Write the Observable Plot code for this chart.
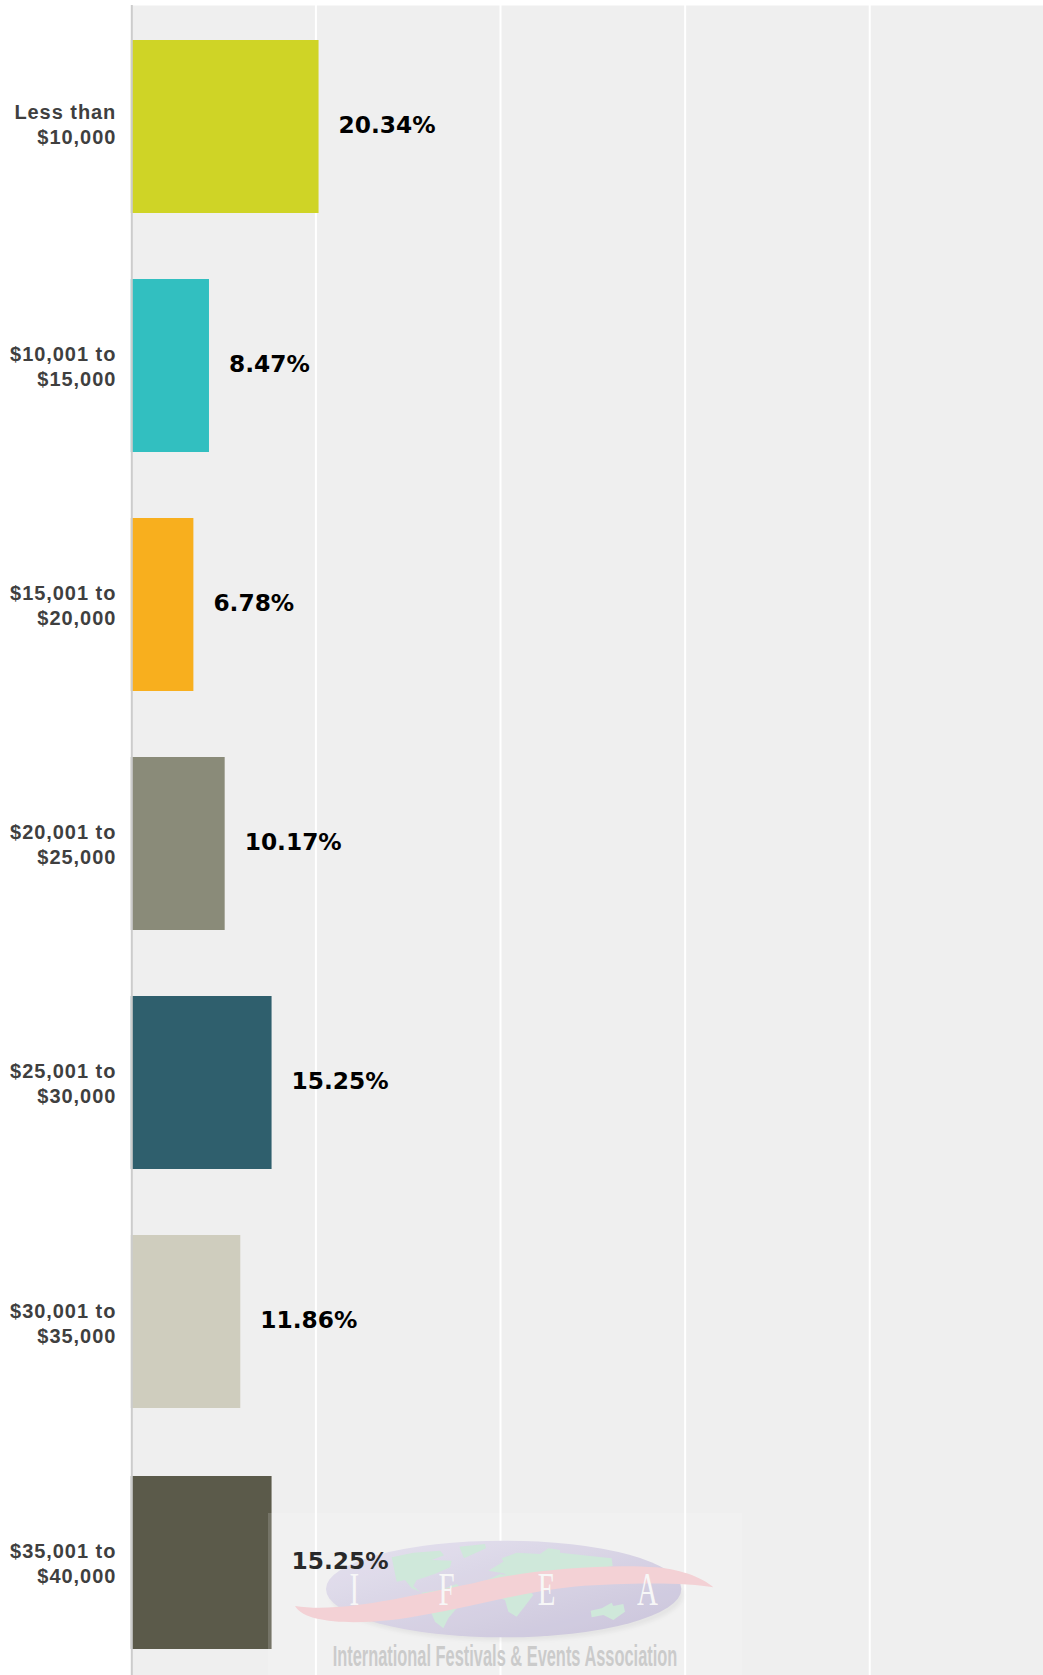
<!DOCTYPE html>
<html>
<head>
<meta charset="utf-8">
<script src="https://cdn.jsdelivr.net/npm/d3@7"></script>
<script src="https://cdn.jsdelivr.net/npm/@observablehq/plot@0.6"></script>
<style>
html,body{margin:0;padding:0;background:#fff;overflow:hidden}
svg{display:block}
</style>
</head>
<body>
<div id="chart"></div>
<script>
const categories = ["Less than\n$10,000","$10,001 to\n$15,000","$15,001 to\n$20,000","$20,001 to\n$25,000","$25,001 to\n$30,000","$30,001 to\n$35,000","$35,001 to\n$40,000"];
const values = [20.34, 8.47, 6.78, 10.17, 15.25, 11.86, 15.25];
const colors = ["#cfd426","#32bfc0","#f8af1e","#8a8b79","#2f5f6d","#cfcdbe","#5b5a4a"];
const gridTicks = [20, 40, 60, 80];
const table = categories.map((category, i) => ({category, value: values[i], color: colors[i], label: values[i].toFixed(2) + "%"}));
const firstRows = table.slice(0, 6);
const lastRow = table.slice(6);

const landShapes = [
  "455,232 520,218 600,212 612,226 575,240 635,242 630,262 590,280 555,292 530,300 520,318 540,335 515,325 495,300 470,305",
  "545,338 600,330 650,312 680,340 650,385 625,415 610,445 585,425 570,390",
  "658,200 735,192 738,205 700,222 672,235",
  "745,272 790,245 785,235 830,218 900,222 925,205 960,210 960,218 1115,235 1118,258 1060,268 900,295 830,300 790,280",
  "720,310 780,282 830,290 880,345 850,385 830,410 805,395 795,360 740,340",
  "1052,392 1085,385 1115,368 1120,378 1150,372 1155,395 1120,420 1090,405 1055,412"
];
const logoLetters = [["I",343],["F",620],["E",920],["A",1222]];

function logoMark(){
  const ns = "http://www.w3.org/2000/svg";
  const g = d3.select(document.createElementNS(ns,"g")).attr("pointer-events","none").attr("text-anchor","start");
  const defs = g.append("defs");
  const grad = defs.append("linearGradient").attr("id","ifeaGlobe").attr("x1",0).attr("y1",0).attr("x2",1).attr("y2",1);
  grad.append("stop").attr("offset",0).attr("stop-color","#e1ddec");
  grad.append("stop").attr("offset",1).attr("stop-color","#c0b9d4");
  defs.append("filter").attr("id","ifeaBlur").append("feGaussianBlur").attr("stdDeviation",7);
  const c = g.append("g").attr("transform","translate(240,1480) scale(0.33333)");
  c.append("ellipse").attr("cx",800).attr("cy",345).attr("rx",530).attr("ry",138).attr("fill","#000").attr("opacity",0.06).attr("filter","url(#ifeaBlur)");
  c.append("ellipse").attr("cx",791).attr("cy",327).attr("rx",533).attr("ry",145).attr("fill","url(#ifeaGlobe)");
  c.selectAll("polygon").data(landShapes).join("polygon").attr("points",d=>d).attr("fill","#c6e4d3");
  c.append("path").attr("d","M165,378 C300,400 500,350 700,310 C850,270 1100,250 1250,262 C1330,270 1390,295 1420,322 C1350,310 1200,305 1000,320 C850,335 700,380 550,405 C400,435 200,440 165,378 Z").attr("fill","#f1c9cd");
  c.selectAll("text.l").data(logoLetters).join("text").attr("class","l")
    .attr("transform",d=>`translate(${d[1]},375) scale(0.62,1)`)
    .attr("text-anchor","middle").attr("font-family","'Liberation Serif',serif").attr("font-size",140).attr("fill","#f6f6f6").text(d=>d[0]);
  c.append("text").attr("x",278).attr("y",558).attr("text-anchor","start").attr("textLength",1034).attr("lengthAdjust","spacingAndGlyphs")
    .attr("font-family","'Liberation Sans Narrow','Liberation Sans',sans-serif").attr("font-weight","bold").attr("font-size",88).attr("fill","#c2c2c2")
    .text("International Festivals & Events Association");
  return g.node();
}
function veilMark(){
  const v = document.createElementNS("http://www.w3.org/2000/svg","rect");
  v.setAttribute("x",268);v.setAttribute("y",1513);v.setAttribute("width",474);v.setAttribute("height",162);
  v.setAttribute("fill","#fff");v.setAttribute("fill-opacity",0.16);
  return v;
}

const valueLabel = (rows, dy) => Plot.text(rows, {x: "value", y: "category", text: "label", textAnchor: "start", dx: 19.5, dy,
  fontFamily: "'DejaVu Sans',sans-serif", fontWeight: "bold", fontSize: 23.3, fill: "#000"});
const categoryLabel = (rows, dy) => Plot.text(rows, {x: 0, y: "category", text: "category", textAnchor: "end", dx: -15, dy, lineHeight: 1.25,
  fontFamily: "'Liberation Sans',Arial,sans-serif", fontWeight: "bold", fontSize: 20, fill: "#3f3f3f", className: "cat-label"});

const chart = Plot.plot({
  width: 1043,
  height: 1675,
  marginTop: 5,
  marginRight: 0,
  marginBottom: 0,
  marginLeft: 131,
  style: {background: "#fff", overflow: "hidden"},
  x: {domain: [0, 98.75], range: [130.8, 1042.3], axis: null},
  y: {domain: categories, range: [6, 1681.3], paddingInner: 0.277, paddingOuter: 0.1385, axis: null},
  marks: [
    Plot.frame({fill: "#efefef", stroke: null}),
    Plot.ruleX(gridTicks, {stroke: "#fff", strokeWidth: 2}),
    Plot.barX(firstRows, {x: "value", y: "category", fill: "color"}),
    Plot.barX(lastRow, {x: "value", y: "category", fill: "color", dy: 2}),
    Plot.ruleX([0], {stroke: "#ccc", strokeWidth: 2, dx: 0.5}),
    logoMark,
    valueLabel(firstRows, -1),
    valueLabel(lastRow, 1),
    categoryLabel(table.slice(0, 1), -3.5),
    categoryLabel(table.slice(1, 5), -1),
    categoryLabel(table.slice(5, 6), 0.5),
    categoryLabel(lastRow, 1),
    veilMark
  ]
});
d3.select(chart).selectAll(".cat-label text").style("letter-spacing", "0.95px");
document.getElementById("chart").append(chart);
</script>
</body>
</html>
